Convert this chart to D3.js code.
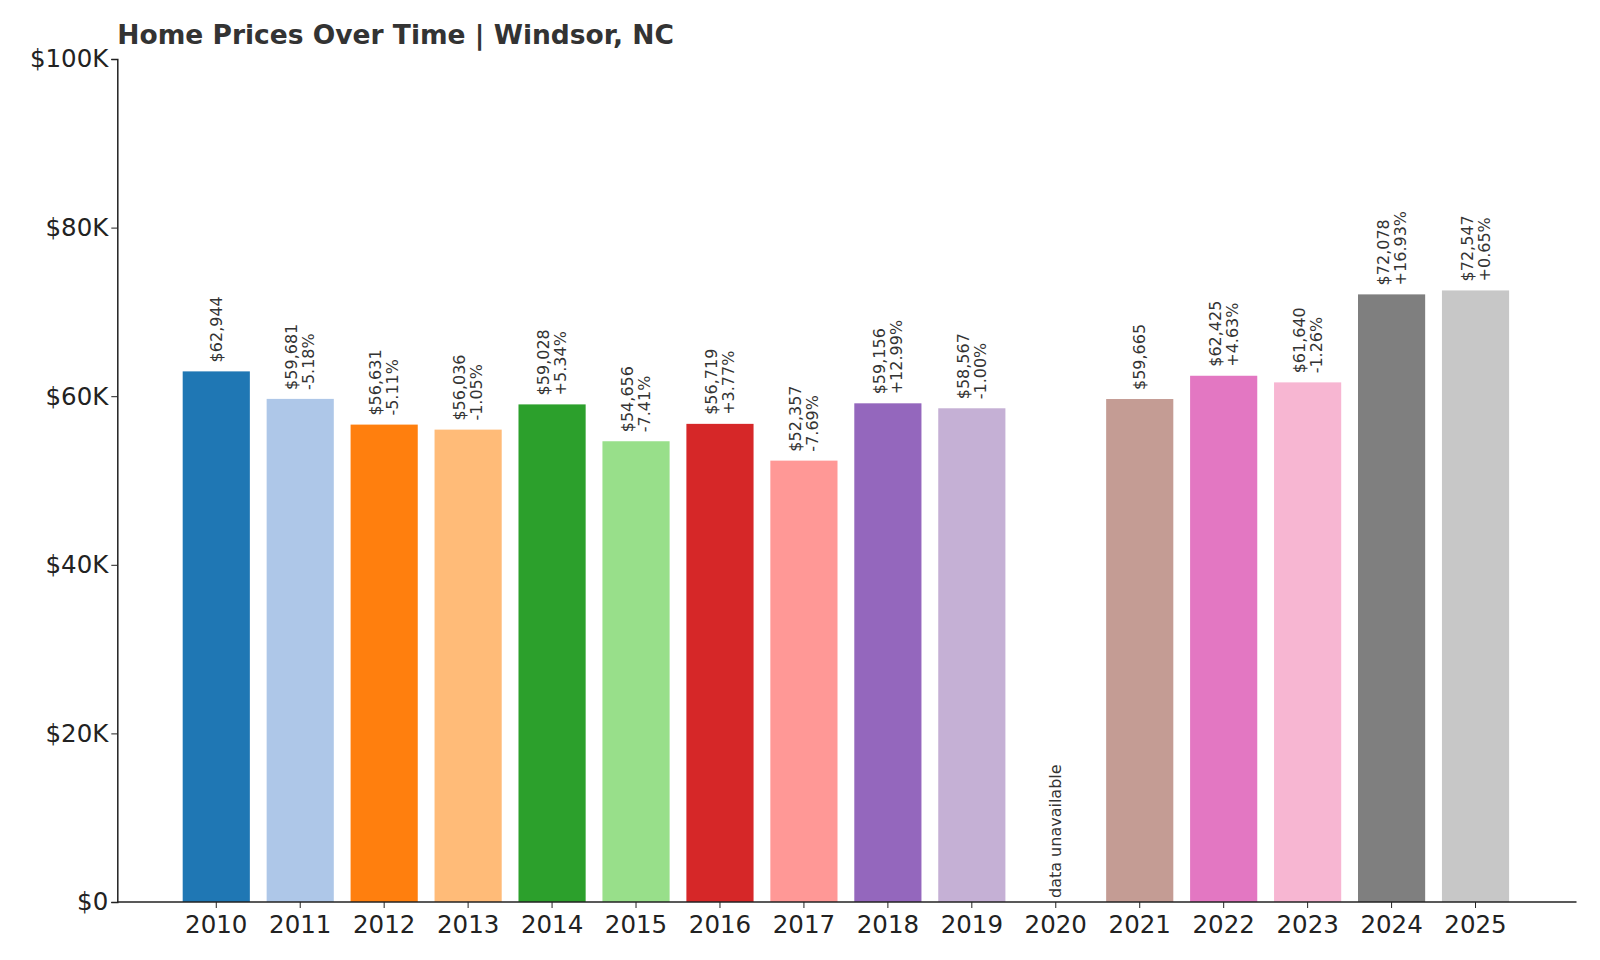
<!DOCTYPE html>
<html><head><meta charset="utf-8">
<script src="https://cdn.jsdelivr.net/npm/d3@7"></script>
<style>body{margin:0;background:#fff;font-family:"DejaVu Sans",sans-serif}</style>
</head><body><div id="chart"></div>
<script>
const years = ["2010","2011","2012","2013","2014","2015","2016","2017","2018","2019","2020","2021","2022","2023","2024","2025"];
const values = [62944,59681,56631,56036,59028,54656,56719,52357,59156,58567,null,59665,62425,61640,72078,72547];
const changes = ["","-5.18%","-5.11%","-1.05%","+5.34%","-7.41%","+3.77%","-7.69%","+12.99%","-1.00%","","","+4.63%","-1.26%","+16.93%","+0.65%"];
const colors = ["#1f77b4","#aec7e8","#ff7f0e","#ffbb78","#2ca02c","#98df8a","#d62728","#ff9896","#9467bd","#c5b0d5","#8c564b","#c49c94","#e377c2","#f7b6d2","#7f7f7f","#c7c7c7"];
const yTicks = [0,20000,40000,60000,80000,100000];

const W = 1600, H = 960;
const svg = d3.select("#chart").append("svg").attr("width", W).attr("height", H);

const x = d3.scaleBand().domain(years).range([165.9, 1525.9]).paddingInner(0.2).paddingOuter(0.2);
const y = d3.scaleLinear().domain([0, 100000]).range([902, 59]);

// bars
svg.selectAll("rect.bar")
  .data(years.map((yr, i) => ({yr, v: values[i], c: colors[i]})).filter(d => d.v != null))
  .join("rect")
  .attr("x", d => x(d.yr)).attr("width", x.bandwidth())
  .attr("y", d => y(d.v)).attr("height", d => y(0) - y(d.v))
  .attr("fill", d => d.c);

// labels
years.forEach((yr, i) => {
  const cx = x(yr) + x.bandwidth() / 2;
  const v = values[i];
  const base = v == null ? y(0) - 4 : y(v) - 9;
  const t = svg.append("text")
    .attr("transform", `translate(${cx},${base}) rotate(-90)`)
    .attr("font-size", 16).attr("fill", "#333");
  if (v == null) {
    t.attr("dy", "0.35em").text("data unavailable");
    return;
  }
  const lines = changes[i] ? ["$" + d3.format(",")(v), changes[i]] : ["$" + d3.format(",")(v)];
  const off = lines.length === 2 ? -8.5 : 0;
  lines.forEach((l, k) => {
    t.append("tspan").attr("x", 0).attr("y", off + k * 17).attr("dy", "0.35em").text(l);
  });
});

// axes
const yAxis = d3.axisLeft(y).tickValues(yTicks).tickSize(6).tickFormat(d => d === 0 ? "$0" : "$" + (d / 1000) + "K");
const gy = svg.append("g").attr("transform", "translate(117.3,0)").call(yAxis);
gy.selectAll("text").attr("font-size", 24.5).attr("fill", "#222").attr("font-family", "DejaVu Sans");
gy.select(".domain").attr("stroke", "#222").attr("stroke-width", 1.5);
gy.selectAll(".tick line").attr("stroke", "#222");

const xAxis = d3.axisBottom(x).tickSize(6).tickSizeOuter(0);
const gx = svg.append("g").attr("transform", "translate(0,902)").call(xAxis);
gx.selectAll("text").attr("font-size", 24.5).attr("fill", "#222").attr("font-family", "DejaVu Sans").attr("dy", "0.9em");
gx.select(".domain").remove();
gx.selectAll(".tick line").attr("stroke", "#222");
svg.append("line").attr("x1", 117.3).attr("x2", 1576.5).attr("y1", 902).attr("y2", 902).attr("stroke", "#222").attr("stroke-width", 1.5);

svg.append("text").attr("x", 117.3).attr("y", 44)
  .attr("font-size", 26.5).attr("font-weight", "bold").attr("fill", "#333")
  .text("Home Prices Over Time | Windsor, NC");
</script>
</body></html>
